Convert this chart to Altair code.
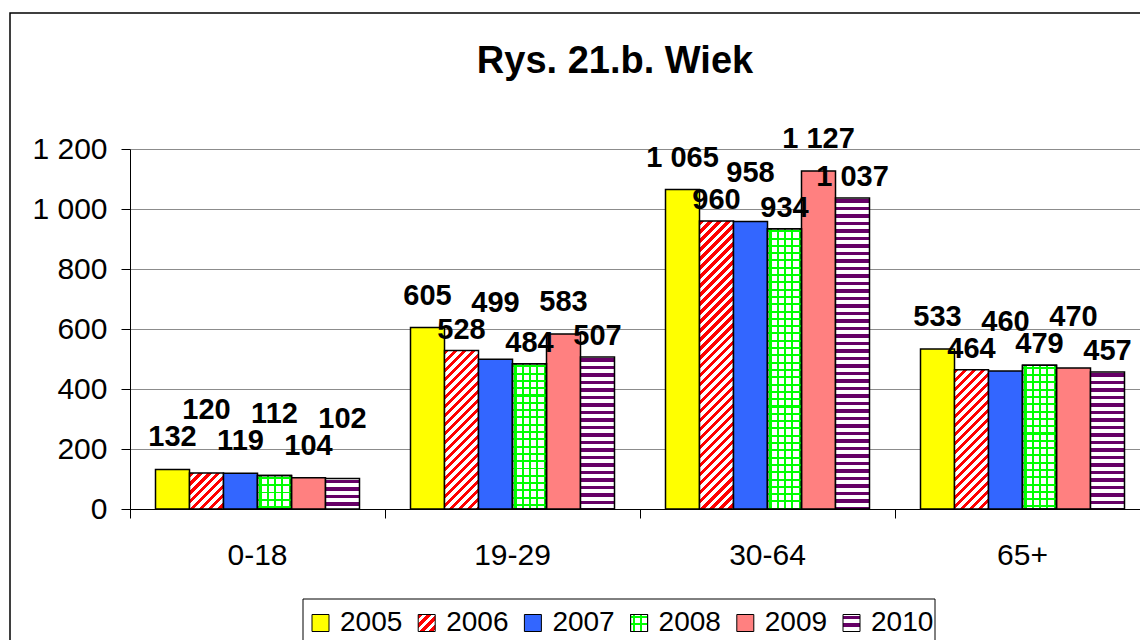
import altair as alt

# ---------------- data ----------------
categories = ["0-18", "19-29", "30-64", "65+"]
years = ["2005", "2006", "2007", "2008", "2009", "2010"]
v2005 = [132, 605, 1065, 533]
v2006 = [120, 528, 960, 464]
v2007 = [119, 499, 958, 460]
v2008 = [112, 484, 934, 479]
v2009 = [104, 583, 1127, 470]
v2010 = [102, 507, 1037, 457]
y_ticks = [0, 200, 400, 600, 800, 1000, 1200]
title_text = "Rys. 21.b. Wiek"

series = dict(zip(years, [v2005, v2006, v2007, v2008, v2009, v2010]))

# ---------------- layout / style ----------------
FONT = "Liberation Sans, Arial, sans-serif"
LABEL_FONT = "Liberation Sans Narrow, Arial Narrow, Liberation Sans, sans-serif"
PLOT_W = 1010
SCALE_W = 1020
PLOT_H = 360
Y_MAX = 1200
PX = PLOT_H / Y_MAX
STEP = SCALE_W / len(categories)
OUTER = 0.75
BAR_W = STEP / (len(years) + 2 * OUTER)
LEG_SYM = 17

YELLOW = "#FFFF00"
RED = "#FF0000"
BLUE = "#3366FF"
GREEN = "#00FF00"
SALMON = "#FF8080"
PURPLE = "#660066"
WHITE = "#FFFFFF"
CLEAR = "rgba(255,255,255,0)"


def _stripes(length, period, thick, fg, bg, start):
    L = max(float(length), 1.0)
    stops = [{"offset": 0, "color": bg}]
    p = start
    while p < L:
        a = round(p / L, 5)
        b = round(min((p + thick) / L, 1.0), 5)
        stops += [{"offset": a, "color": bg}, {"offset": a, "color": fg},
                  {"offset": b, "color": fg}, {"offset": b, "color": bg}]
        p += period
    stops.append({"offset": 1, "color": bg})
    return stops


def h_lines(w, h, fg, bg, period, thick):
    return {"gradient": "linear", "x1": 0, "y1": 0, "x2": 0, "y2": 1,
            "stops": _stripes(h, period, thick, fg, bg, 1.5)}


def v_lines(w, h, fg, bg, period, thick):
    return {"gradient": "linear", "x1": 0, "y1": 0, "x2": 1, "y2": 0,
            "stops": _stripes(w, period, thick, fg, bg, 2.0)}


def diag_lines(w, h, fg, bg, period, thick):
    s = (w + h) / (w * w + h * h)
    return {"gradient": "linear", "x1": 0, "y1": 0,
            "x2": round(s * w, 6), "y2": round(s * h, 6),
            "stops": _stripes(w + h, period, thick, fg, bg, 0.0)}


def fill_for(year, w, h):
    if year == "2005":
        return YELLOW
    if year == "2006":
        return diag_lines(w, h, RED, WHITE, 9.0, 4.5)
    if year == "2007":
        return BLUE
    if year == "2008":
        return v_lines(w, h, GREEN, WHITE, 7.3, 2.0)
    if year == "2009":
        return SALMON
    return h_lines(w, h, PURPLE, WHITE, 7.5, 3.2)


def grid_overlay(w, h):
    return h_lines(w, h, GREEN, CLEAR, 7.3, 2.0)


def fmt(v):
    return f"{v:,}".replace(",", " ")


def place_labels(vals):
    # staggered labels (alternate bars lifted higher) with simple collision
    # avoidance: tallest bars first, overlapping neighbours pushed upwards
    n = len(vals)
    tops = [v * PX for v in vals]
    placed = [None] * n
    for i in sorted(range(n), key=lambda k: -vals[k]):
        y = tops[i] + (32 if i % 2 == 0 else 21)
        changed = True
        while changed:
            changed = False
            for j in (i - 1, i + 1):
                if 0 <= j < n and placed[j] is not None and abs(y - placed[j]) < 20:
                    y = placed[j] + 27
                    changed = True
        placed[i] = y
    return [p / PX for p in placed]


bar_rows, grid_rows, label_rows = [], [], []
for ci, cat in enumerate(categories):
    vals = [series[yr][ci] for yr in years]
    lpos = place_labels(vals)
    for yi, yr in enumerate(years):
        v = vals[yi]
        h = v * PX
        bar_rows.append({"category": cat, "year": yr, "value": v, "fill": fill_for(yr, BAR_W, h)})
        if yr == "2008":
            grid_rows.append({"category": cat, "year": yr, "value": v, "fill2": grid_overlay(BAR_W, h)})
        label_rows.append({"category": cat, "year": yr, "label_pos": lpos[yi], "label": fmt(v)})

leg_rows = [{"year": yr, "fill": fill_for(yr, LEG_SYM, LEG_SYM)} for yr in years]
leg_grid_rows = [{"year": "2008", "fill2": grid_overlay(LEG_SYM, LEG_SYM)}]

# ---------------- encodings ----------------
x_axis = alt.Axis(title=None, bandPosition=0, tickSize=9, labelPadding=22,
                  domainColor="black", tickColor="black", labelColor="black", labelFont=FONT,
                  labelFontSize=30, labelAngle=0, grid=False, domainWidth=1, tickWidth=1)
x_enc = alt.X("category:N", sort=categories,
              scale=alt.Scale(domain=categories, range=[0, SCALE_W], paddingInner=0, paddingOuter=0),
              axis=x_axis)
xo_enc = alt.XOffset("year:N", sort=years,
                     scale=alt.Scale(domain=years, paddingInner=0, paddingOuter=OUTER))
y_axis = alt.Axis(title=None, values=y_ticks, tickSize=9, labelPadding=14, grid=True,
                  gridColor="#8c8c8c", gridWidth=1, domainColor="black", tickColor="black",
                  labelColor="black", labelFont=FONT, labelFontSize=30,
                  labelExpr="replace(format(datum.value, ','), ',', ' ')")
y_scale = alt.Scale(domain=[0, Y_MAX], nice=False, zero=True)

bars = alt.Chart(alt.Data(values=bar_rows)).mark_bar(stroke="black", strokeWidth=1.5).encode(
    x=x_enc, xOffset=xo_enc,
    y=alt.Y("value:Q", scale=y_scale, axis=y_axis),
    fill=alt.Fill("fill:N", scale=None),
)
grid_bars = alt.Chart(alt.Data(values=grid_rows)).mark_bar(stroke="black", strokeWidth=1.5).encode(
    x=x_enc, xOffset=xo_enc,
    y=alt.Y("value:Q", scale=y_scale, axis=y_axis),
    fill=alt.Fill("fill2:N", scale=None),
)
labels = alt.Chart(alt.Data(values=label_rows)).mark_text(
    font=LABEL_FONT, fontWeight="bold", fontSize=29, baseline="middle", align="center", color="black"
).encode(
    x=x_enc, xOffset=xo_enc,
    y=alt.Y("label_pos:Q", scale=y_scale, axis=y_axis),
    text="label:N",
)
main = alt.layer(bars, grid_bars, labels)

leg_x = alt.X("year:N", sort=years,
              scale=alt.Scale(type="point", domain=years, range=[190.5, 721.5], padding=0),
              axis=None)
leg_sym = alt.Chart(alt.Data(values=leg_rows)).mark_point(
    shape="square", size=LEG_SYM * LEG_SYM, filled=True, opacity=1, stroke="black", strokeWidth=1
).encode(x=leg_x, y=alt.value(474), fill=alt.Fill("fill:N", scale=None))
leg_grid = alt.Chart(alt.Data(values=leg_grid_rows)).mark_point(
    shape="square", size=LEG_SYM * LEG_SYM, filled=True, opacity=1, stroke="black", strokeWidth=1
).encode(x=leg_x, y=alt.value(474), fill=alt.Fill("fill2:N", scale=None))
leg_txt = alt.Chart(alt.Data(values=leg_rows)).mark_text(
    align="left", baseline="middle", dx=19.5, fontSize=28, font=FONT, color="black"
).encode(x=leg_x, y=alt.value(474), text="year:N")
legend = alt.layer(leg_sym, leg_grid, leg_txt)

frame = alt.Chart(alt.Data(values=[{}])).mark_rect(
    filled=False, stroke="black", strokeWidth=1.5
).encode(x=alt.value(-120), x2=alt.value(1100), y=alt.value(-136), y2=alt.value(700))

legend_box = alt.Chart(alt.Data(values=[{}])).mark_rect(
    fill="white", stroke="black", strokeWidth=1
).encode(x=alt.value(173), x2=alt.value(805), y=alt.value(450), y2=alt.value(700))

title = alt.Chart(alt.Data(values=[{"t": title_text}])).mark_text(
    font=FONT, fontSize=38, fontWeight="bold", align="center", baseline="alphabetic", color="black"
).encode(x=alt.value(485), y=alt.value(-76), text="t:N")

chart = alt.layer(frame, main, legend_box, legend, title).resolve_scale(
    x="independent"
).properties(
    width=PLOT_W,
    height=PLOT_H,
    padding={"left": 122, "top": 141, "right": 0, "bottom": 131},
    autosize=alt.AutoSizeParams(type="none"),
    background="white",
).configure_view(stroke=None)

chart.save("out.html", embed_options={"renderer": "svg", "actions": False})
